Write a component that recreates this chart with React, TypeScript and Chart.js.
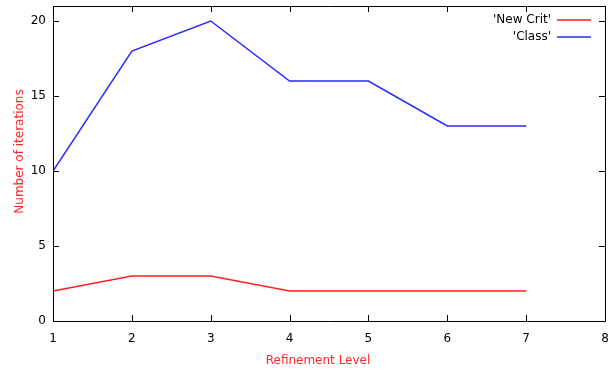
import React, { useEffect, useRef } from "react";
import { Chart, registerables } from "chart.js";

Chart.register(...registerables);

const levels = [1, 2, 3, 4, 5, 6, 7];
const newCrit = [2, 3, 3, 2, 2, 2, 2];
const classic = [10, 18, 20, 16, 16, 13, 13];
const seriesLabels = ["'New Crit'", "'Class'"];
const seriesColors = ["rgb(255,30,30)", "rgb(40,40,255)"];
const yTicks = [0, 5, 10, 15, 20];
const xTicks = [1, 2, 3, 4, 5, 6, 7, 8];
const xTitle = "Refinement Level";
const yTitle = "Number of iterations";

const FONT = "'DejaVu Sans', sans-serif";
const TITLE_COLOR = "rgb(255,40,40)";

const framePlugin = {
  id: "frame",
  afterDatasetsDraw(chart: any) {
    const { ctx, chartArea, scales } = chart;
    const { left, right, top, bottom } = chartArea;
    ctx.save();
    ctx.strokeStyle = "#000";
    ctx.lineWidth = 1;
    ctx.beginPath();
    ctx.rect(Math.round(left) + 0.5, Math.round(top) + 0.5, Math.round(right - left), Math.round(bottom - top));
    ctx.stroke();
    const tl = 6;
    ctx.beginPath();
    for (const v of xTicks) {
      const x = Math.round(scales.x.getPixelForValue(v)) + 0.5;
      ctx.moveTo(x, bottom);
      ctx.lineTo(x, bottom - tl);
      ctx.moveTo(x, top);
      ctx.lineTo(x, top + tl);
    }
    for (const v of yTicks) {
      const y = Math.round(scales.y.getPixelForValue(v)) + 0.5;
      ctx.moveTo(left, y);
      ctx.lineTo(left + tl, y);
      ctx.moveTo(right, y);
      ctx.lineTo(right - tl, y);
    }
    ctx.stroke();

    // legend
    ctx.font = "12px " + FONT;
    ctx.textAlign = "right";
    ctx.textBaseline = "middle";
    chart.data.datasets.forEach((ds: any, i: number) => {
      const y = top + 13.5 + i * 17;
      ctx.fillStyle = "#000";
      ctx.fillText(ds.label, right - 54, y);
      ctx.strokeStyle = ds.borderColor;
      ctx.lineWidth = 1.5;
      ctx.beginPath();
      ctx.moveTo(right - 48, Math.round(y));
      ctx.lineTo(right - 14, Math.round(y));
      ctx.stroke();
    });

    // axis titles
    ctx.fillStyle = TITLE_COLOR;
    ctx.textAlign = "center";
    ctx.textBaseline = "middle";
    ctx.fillText(xTitle, left + (right - left) / 2 - 11, bottom + 40);
    ctx.save();
    ctx.translate(20, top + (bottom - top) / 2 - 12);
    ctx.rotate(-Math.PI / 2);
    ctx.fillText(yTitle, 0, 0);
    ctx.restore();
    ctx.restore();
  },
};

export default function App() {
  const ref = useRef<HTMLCanvasElement>(null);
  useEffect(() => {
    document.body.style.margin = "0";
    const chart = new Chart(ref.current!, {
      type: "line",
      data: {
        labels: levels,
        datasets: [
          {
            label: seriesLabels[0],
            data: levels.map((x, i) => ({ x, y: newCrit[i] })),
            borderColor: seriesColors[0],
            borderWidth: 1.5,
            pointRadius: 0,
            tension: 0,
          },
          {
            label: seriesLabels[1],
            data: levels.map((x, i) => ({ x, y: classic[i] })),
            borderColor: seriesColors[1],
            borderWidth: 1.5,
            pointRadius: 0,
            tension: 0,
          },
        ],
      },
      options: {
        animation: false,
        responsive: false,
        maintainAspectRatio: false,
        layout: { padding: { left: 0, right: 9, top: 6, bottom: 0 } },
        plugins: { legend: { display: false }, tooltip: { enabled: false } },
        scales: {
          x: {
            type: "linear",
            min: 1,
            max: 8,
            grid: { display: false, drawTicks: false },
            border: { display: false },
            afterBuildTicks: (s: any) => {
              s.ticks = xTicks.map((v) => ({ value: v }));
            },
            afterFit: (s: any) => {
              s.height = 52;
              s.paddingLeft = 0;
              s.paddingRight = 0;
            },
            ticks: { padding: 11, color: "#000", font: { family: FONT, size: 12 }, maxRotation: 0, autoSkip: false },
          },
          y: {
            type: "linear",
            min: 0,
            max: 21,
            grid: { display: false, drawTicks: false },
            border: { display: false },
            afterBuildTicks: (s: any) => {
              s.ticks = yTicks.map((v) => ({ value: v }));
            },
            afterFit: (s: any) => {
              s.width = 53;
              s.paddingTop = 0;
              s.paddingBottom = 0;
            },
            ticks: { padding: 7, color: "#000", font: { family: FONT, size: 12 } },
          },
        },
      },
      plugins: [framePlugin],
    });
    return () => chart.destroy();
  }, []);
  return (
    <div style={{ width: 614, height: 373 }}>
      <canvas ref={ref} width={614} height={373} style={{ display: "block", background: "#fff" }} />
    </div>
  );
}
